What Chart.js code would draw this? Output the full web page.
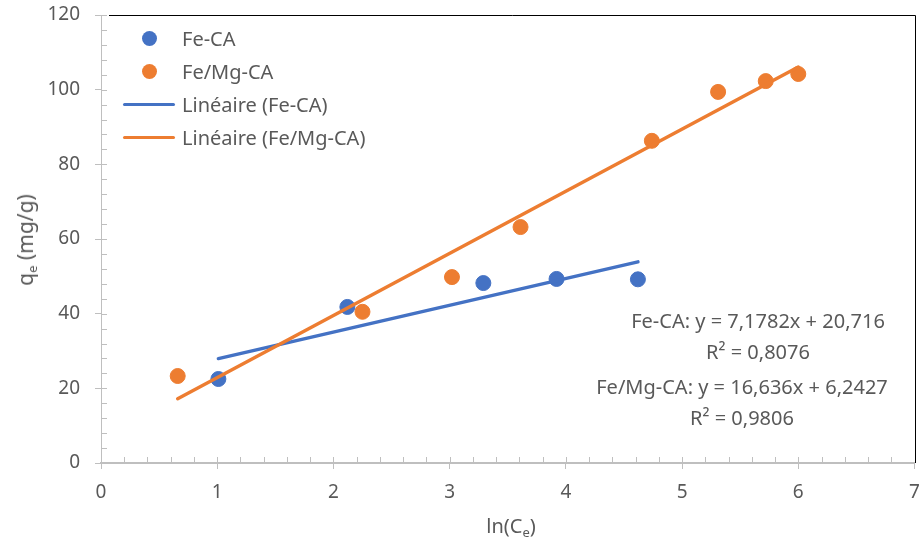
<!DOCTYPE html>
<html lang="fr">
<head>
<meta charset="utf-8">
<title>qe vs ln(Ce)</title>
<script src="https://cdn.jsdelivr.net/npm/chart.js@4/dist/chart.umd.min.js"></script>
<style>
    html, body { margin: 0; padding: 0; background: #fff; }
    .chart-wrap { position: relative; width: 923px; height: 549px; font-family: 'Noto Sans', sans-serif; color: #595959; }
    .chart-wrap canvas { position: absolute; left: 0; top: 0; }
    .legend { position: absolute; left: 118px; top: 22px; font-size: 20px; }
    .legend-row { display: flex; align-items: center; height: 33px; }
    .legend-key { width: 64px; height: 33px; position: relative; flex: none; }
    .legend-key .dot { position: absolute; left: 24px; top: 9px; width: 15px; height: 15px; border-radius: 50%; }
    .legend-key .line { position: absolute; left: 5px; top: 15px; width: 52px; height: 3px; border-radius: 2px; }
    .axis-title { position: absolute; font-size: 20px; white-space: nowrap; }
    .axis-title sub { font-size: 13px; vertical-align: -4px; }
    .y-title { left: 26px; top: 240px; font-size: 21px; transform: translate(-50%, -50%) rotate(-90deg); }
    .x-title { left: 511px; top: 526px; transform: translate(-50%, -50%); }
    .eq { position: absolute; font-size: 20px; text-align: center; line-height: 31px; white-space: nowrap; transform: translateX(-50%); }
</style>
</head>
<body>
<div class="chart-wrap">
    <canvas id="isotherm-chart" width="923" height="549"></canvas>
    <div class="legend" id="legend"></div>
    <div class="axis-title y-title">q<sub>e</sub> (mg/g)</div>
    <div class="axis-title x-title">ln(C<sub>e</sub>)</div>
    <div class="eq" style="left:758px; top:305px;">Fe-CA: y = 7,1782x + 20,716<br>R² = 0,8076</div>
    <div class="eq" style="left:742px; top:371px;">Fe/Mg-CA: y = 16,636x + 6,2427<br>R² = 0,9806</div>
</div>
<script>
// Data
const feCaX = [1.01, 2.12, 3.29, 3.92, 4.62];
const feCaY = [22.5, 41.8, 48.2, 49.3, 49.2];
const feMgCaX = [0.66, 2.25, 3.02, 3.61, 4.74, 5.31, 5.72, 6.0];
const feMgCaY = [23.3, 40.5, 49.8, 63.2, 86.3, 99.4, 102.3, 104.2];

// Trendline coefficients (slope, intercept) as printed on the chart
const feCaFit = [7.1782, 20.716];
const feMgCaFit = [16.636, 6.2427];

const xTicks = [0, 1, 2, 3, 4, 5, 6, 7];
const yTicks = [0, 20, 40, 60, 80, 100, 120];

const BLUE = '#4472C4';
const ORANGE = '#ED7D31';
const AXIS = '#BFBFBF';
const TEXT = '#595959';

function toPoints(xs, ys) {
    return xs.map((x, i) => ({ x, y: ys[i] }));
}

function trendPoints(xs, fit) {
    const lo = Math.min(...xs);
    const hi = Math.max(...xs);
    return [lo, hi].map(x => ({ x, y: fit[0] * x + fit[1] }));
}

// Minor ticks pointing inside the plot, plus the black top/right frame
const frameAndMinorTicks = {
    id: 'frameAndMinorTicks',
    afterDraw(chart) {
        const { ctx, chartArea: a, scales } = chart;
        ctx.save();
        ctx.strokeStyle = AXIS;
        ctx.lineWidth = 1;
        ctx.beginPath();
        for (let v = 0; v <= 7.0001; v += 0.2) {
            const px = Math.round(scales.x.getPixelForValue(v)) + 0.5;
            ctx.moveTo(px, a.bottom);
            ctx.lineTo(px, a.bottom - 6);
        }
        for (let v = 0; v <= 120.0001; v += 4) {
            const py = Math.round(scales.y.getPixelForValue(v)) + 0.5;
            ctx.moveTo(a.left, py);
            ctx.lineTo(a.left + 6, py);
        }
        ctx.stroke();

        ctx.strokeStyle = '#000';
        ctx.lineWidth = 1;
        ctx.beginPath();
        ctx.moveTo(a.left + 8, Math.round(a.top) + 0.5);
        ctx.lineTo(Math.round(a.right) + 0.5, Math.round(a.top) + 0.5);
        ctx.lineTo(Math.round(a.right) + 0.5, a.bottom);
        ctx.stroke();
        ctx.restore();
    }
};

function renderLegend() {
    const items = [
        { label: 'Fe-CA', color: BLUE, kind: 'dot' },
        { label: 'Fe/Mg-CA', color: ORANGE, kind: 'dot' },
        { label: 'Linéaire (Fe-CA)', color: BLUE, kind: 'line' },
        { label: 'Linéaire (Fe/Mg-CA)', color: ORANGE, kind: 'line' }
    ];
    document.getElementById('legend').innerHTML = items.map(it => `
        <div class="legend-row">
            <div class="legend-key"><div class="${it.kind}" style="background:${it.color}"></div></div>
            <span>${it.label}</span>
        </div>`).join('');
}

const tickFont = { family: "'Noto Sans', sans-serif", size: 19 };

new Chart(document.getElementById('isotherm-chart'), {
    type: 'scatter',
    data: {
        datasets: [
            {
                label: 'Linéaire (Fe/Mg-CA)',
                type: 'line',
                data: trendPoints(feMgCaX, feMgCaFit),
                borderColor: ORANGE,
                borderWidth: 3.5,
                pointRadius: 0,
                borderCapStyle: 'round',
                order: 0
            },
            {
                label: 'Linéaire (Fe-CA)',
                type: 'line',
                data: trendPoints(feCaX, feCaFit),
                borderColor: BLUE,
                borderWidth: 3.5,
                pointRadius: 0,
                borderCapStyle: 'round',
                order: 1
            },
            {
                label: 'Fe/Mg-CA',
                data: toPoints(feMgCaX, feMgCaY),
                backgroundColor: ORANGE,
                borderColor: ORANGE,
                pointRadius: 7.5,
                order: 2
            },
            {
                label: 'Fe-CA',
                data: toPoints(feCaX, feCaY),
                backgroundColor: BLUE,
                borderColor: BLUE,
                pointRadius: 7.5,
                order: 3
            }
        ]
    },
    options: {
        responsive: false,
        animation: false,
        layout: { padding: { top: 15, right: 4, left: 0, bottom: 0 } },
        plugins: {
            legend: { display: false },
            tooltip: { enabled: false }
        },
        scales: {
            x: {
                type: 'linear',
                min: 0,
                max: 7,
                afterBuildTicks: s => { s.ticks = xTicks.map(v => ({ value: v })); },
                afterFit: s => { s.height = 86; s.paddingLeft = 0; s.paddingRight = 0; },
                ticks: { color: TEXT, font: tickFont, padding: 12 },
                grid: { drawOnChartArea: false, drawTicks: true, tickLength: 6, color: AXIS },
                border: { color: AXIS, width: 2 }
            },
            y: {
                type: 'linear',
                min: 0,
                max: 120,
                afterBuildTicks: s => { s.ticks = yTicks.map(v => ({ value: v })); },
                afterFit: s => { s.width = 101; s.paddingTop = 0; s.paddingBottom = 0; },
                ticks: { color: TEXT, font: tickFont, padding: 15 },
                grid: { drawOnChartArea: false, drawTicks: true, tickLength: 6, color: AXIS },
                border: { color: AXIS, width: 1 }
            }
        }
    },
    plugins: [frameAndMinorTicks]
});

renderLegend();
</script>
</body>
</html>
